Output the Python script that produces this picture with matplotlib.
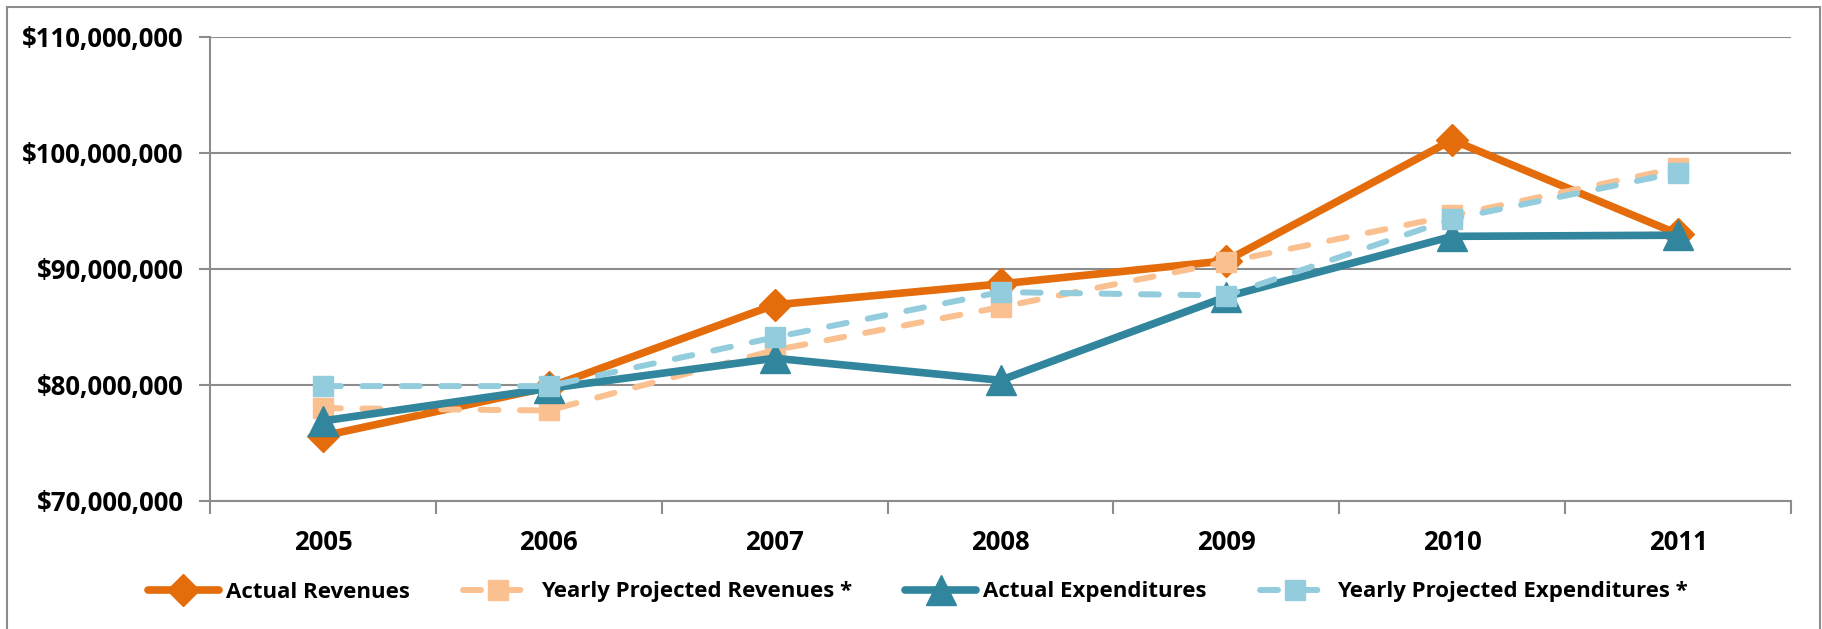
import matplotlib
matplotlib.use("Agg")
import matplotlib.pyplot as plt
from matplotlib.patches import Rectangle
from matplotlib.ticker import FuncFormatter, MultipleLocator

years = ["2005", "2006", "2007", "2008", "2009", "2010", "2011"]
actual_revenues = [75.6e6, 79.8e6, 86.9e6, 88.7e6, 90.7e6, 101.1e6, 93.0e6]
projected_revenues = [78.0e6, 77.8e6, 83.0e6, 86.7e6, 90.6e6, 94.6e6, 98.7e6]
actual_expenditures = [76.9e6, 79.7e6, 82.3e6, 80.4e6, 87.6e6, 92.8e6, 92.9e6]
projected_expenditures = [79.9e6, 79.9e6, 84.1e6, 88.0e6, 87.7e6, 94.3e6, 98.3e6]

labels = ["Actual Revenues", "Yearly Projected Revenues *",
          "Actual Expenditures", "Yearly Projected Expenditures *"]

FONT = ["Open Sans", "DejaVu Sans"]
FS = 16
TFS = 18.5
W, H = 1822, 629
fig = plt.figure(figsize=(W / 100, H / 100), dpi=100)
fig.patch.set_facecolor("white")

# outer chart frame
fig.patches.append(Rectangle((6.5 / W, -0.05), (1819.5 - 6.5) / W, 1 - 6.5 / H + 0.05,
                             transform=fig.transFigure, fill=False,
                             edgecolor="#8c8c8c", linewidth=1.5))

left, right, top, bottom = 210, 1791, 36.7, 501
ax = fig.add_axes([left / W, 1 - bottom / H, (right - left) / W, (bottom - top) / H])

x = list(range(len(years)))
grid_c = "#8c8c8c"
orange, peach, teal, lblue = "#E46C0A", "#FAC090", "#31859C", "#93CDDD"
dash = (3.0, 3.6)

ax.plot(x, actual_revenues, color=orange, lw=5.5, marker="D", ms=16,
        mec=orange, mfc=orange, solid_joinstyle="round", solid_capstyle="round",
        label=labels[0], zorder=3)
ax.plot(x, projected_revenues, color=peach, lw=4.3, marker="s", ms=15,
        mec=peach, mfc=peach, linestyle=(0, dash), dash_capstyle="round",
        label=labels[1], zorder=4)
ax.plot(x, actual_expenditures, color=teal, lw=5.5, marker="^", ms=22,
        mec=teal, mfc=teal, solid_joinstyle="round", solid_capstyle="round",
        label=labels[2], zorder=5)
ax.plot(x, projected_expenditures, color=lblue, lw=4.3, marker="s", ms=15,
        mec=lblue, mfc=lblue, linestyle=(0, dash), dash_capstyle="round",
        label=labels[3], zorder=6)

ax.set_xlim(-0.5, len(years) - 0.5)
ax.set_ylim(70e6, 110e6)
ax.yaxis.set_major_locator(MultipleLocator(10e6))
ax.yaxis.set_major_formatter(FuncFormatter(lambda v, p: "${:,.0f}".format(v)))
ax.set_xticks(x)
ax.set_xticklabels(years)
ax.set_xticks([i - 0.5 for i in range(len(years) + 1)], minor=True)

ax.grid(axis="y", color=grid_c, linewidth=1.5, zorder=0)
for s in ["top", "right"]:
    ax.spines[s].set_visible(False)
for s in ["left", "bottom"]:
    ax.spines[s].set_color(grid_c)
    ax.spines[s].set_linewidth(1.5)

ax.tick_params(axis="x", which="major", length=0, pad=20)
ax.tick_params(axis="x", which="minor", length=9, width=1.5, color=grid_c)
ax.tick_params(axis="y", length=8, width=1.5, color=grid_c, pad=11)

for lab in ax.get_xticklabels() + ax.get_yticklabels():
    lab.set_fontfamily(FONT)
    lab.set_fontweight("bold")
    lab.set_fontsize(TFS)
    lab.set_color("black")

leg = fig.legend(loc="center", bbox_to_anchor=(918 / W, 1 - 592 / H), ncol=4,
                 frameon=False, handlelength=3.2, handletextpad=0.3,
                 columnspacing=2.4,
                 prop={"family": FONT, "weight": "bold", "size": FS})

fig.savefig("out.png", dpi=100, facecolor="white")
